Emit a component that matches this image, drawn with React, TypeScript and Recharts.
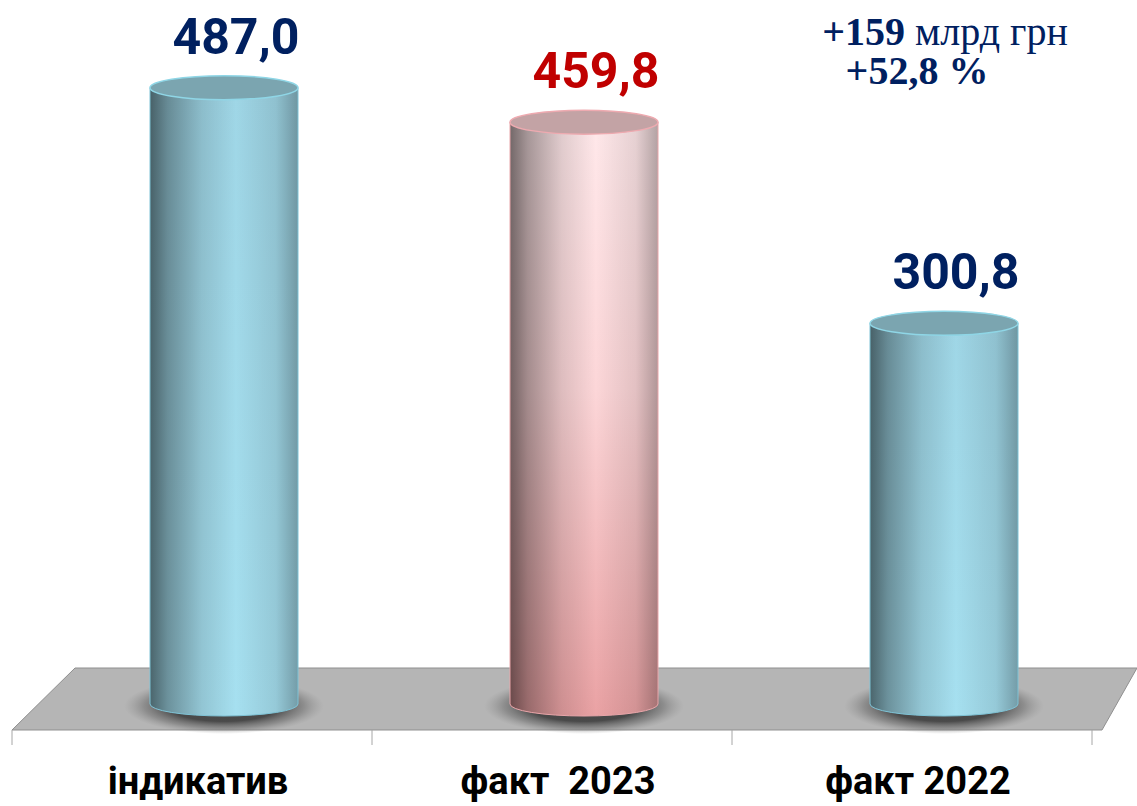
import { BarChart, Bar, XAxis, YAxis, LabelList, Customized } from 'recharts';

const categories = ['індикатив', 'факт  2023', 'факт 2022'];
const values = [487.0, 459.8, 300.8];
const highlighted = 'факт  2023';
const noteLine1 = ['+159', ' млрд грн'];
const noteLine2 = '+52,8 %';

const data = categories.map((name, i) => ({ name, value: values[i] }));

const W = 1137;
const H = 806;
const margin = { top: 8, right: 45, left: 12, bottom: 72 };
const X_AXIS_H = 30;
const PLOT_BOTTOM = H - margin.bottom - X_AXIS_H;
const PLOT_LEFT = margin.left;
const PLOT_RIGHT = W - margin.right;
const SHIFT = 32; // 3d perspective offset of cylinders
const RY = 12;

const NAVY = '#002060';
const RED = '#c00000';
const SANS = "'Liberation Sans Narrow', 'Arial Narrow', Roboto, sans-serif";
const SERIF = "'Liberation Serif', 'Times New Roman', serif";

const fmt = (v: number) => v.toFixed(1).replace('.', ',');

function Floor() {
  const band = (PLOT_RIGHT - PLOT_LEFT) / categories.length;
  const top = PLOT_BOTTOM - 36;
  const bot = PLOT_BOTTOM + 26;
  return (
    <g>
      <defs>
        <linearGradient id="baseBlue" x1="0" y1="0" x2="0" y2="1">
          <stop offset="0%" stopColor="#9fd6e6" />
          <stop offset="100%" stopColor="#a6e0f0" />
        </linearGradient>
        <linearGradient id="basePink" x1="0" y1="0" x2="0" y2="1">
          <stop offset="0%" stopColor="#ffe8ea" />
          <stop offset="45%" stopColor="#fcd6d8" />
          <stop offset="100%" stopColor="#eaa2a4" />
        </linearGradient>
        <linearGradient id="shade" x1="0" y1="0" x2="1" y2="0">
          <stop offset="0%" stopColor="#000" stopOpacity="0.55" />
          <stop offset="12%" stopColor="#000" stopOpacity="0.35" />
          <stop offset="35%" stopColor="#000" stopOpacity="0.12" />
          <stop offset="58%" stopColor="#000" stopOpacity="0" />
          <stop offset="85%" stopColor="#000" stopOpacity="0.1" />
          <stop offset="100%" stopColor="#000" stopOpacity="0.3" />
        </linearGradient>
        <radialGradient id="shadow" cx="0.5" cy="0.5" r="0.5">
          <stop offset="55%" stopColor="#444" stopOpacity="0.95" />
          <stop offset="80%" stopColor="#666" stopOpacity="0.5" />
          <stop offset="100%" stopColor="#888" stopOpacity="0" />
        </radialGradient>
      </defs>
      <polygon
        points={`${PLOT_LEFT + 63},${top} ${W},${top} ${PLOT_RIGHT + 10},${bot} ${PLOT_LEFT},${bot}`}
        fill="#b5b5b5"
        stroke="#8f8f8f"
        strokeWidth={1}
      />
      {Array.from({ length: categories.length + 1 }).map((_, i) => (
        <line
          key={i}
          x1={PLOT_LEFT + i * band}
          x2={PLOT_LEFT + i * band}
          y1={bot}
          y2={bot + 15}
          stroke="#a6a6a6"
          strokeWidth={1}
        />
      ))}
      <text x={945} y={45} textAnchor="middle" fill={NAVY} fontFamily={SERIF} fontSize={40}>
        <tspan fontWeight="bold">{noteLine1[0]}</tspan>
        <tspan style={{ whiteSpace: 'pre' }}>{noteLine1[1]}</tspan>
      </text>
      <text x={917} y={84} textAnchor="middle" fill={NAVY} fontFamily={SERIF} fontSize={40} fontWeight="bold">
        {noteLine2}
      </text>
    </g>
  );
}

function Cylinder(props: any) {
  const { x, y, width, height, payload } = props;
  const pink = payload?.name === highlighted;
  const rx = width / 2;
  const cx = x + rx + SHIFT;
  const left = cx - rx;
  const right = cx + rx;
  const bottom = y + height;
  const side = `M${left},${y} L${left},${bottom} A${rx},${RY} 0 0 0 ${right},${bottom} L${right},${y} Z`;
  return (
    <g>
      <ellipse cx={cx} cy={bottom + 2} rx={rx + 26} ry={RY + 16} fill="url(#shadow)" />
      <path d={side} fill={pink ? 'url(#basePink)' : 'url(#baseBlue)'} />
      <path d={side} fill="url(#shade)" stroke={pink ? '#e9a6aa' : '#7fc3d6'} strokeWidth={1} />
      <ellipse
        cx={cx}
        cy={y}
        rx={rx}
        ry={RY}
        fill={pink ? '#c3a3a5' : '#7ba5b0'}
        stroke={pink ? '#eeaab0' : '#8fd6e6'}
        strokeWidth={1.5}
      />
    </g>
  );
}

function ValueLabel(props: any) {
  const { x, y, width, value, index } = props;
  const pink = categories[index] === highlighted;
  return (
    <text
      x={x + width / 2 + SHIFT + 12}
      y={y - RY - 22}
      textAnchor="middle"
      fill={pink ? RED : NAVY}
      fontFamily={SANS}
      fontWeight="bold"
      fontSize={50}
    >
      {fmt(Number(value))}
    </text>
  );
}

function CategoryTick(props: any) {
  const { x, payload } = props;
  return (
    <text
      x={x + 6}
      y={PLOT_BOTTOM + 90}
      textAnchor="middle"
      fill="#000"
      fontFamily={SANS}
      fontWeight="bold"
      fontSize={38}
      style={{ whiteSpace: 'pre' }}
    >
      {payload.value}
    </text>
  );
}

export default function App() {
  return (
    <div style={{ position: 'absolute', left: 0, top: 0, width: W, height: H, background: '#fff' }}>
      <BarChart width={W} height={H} data={data} margin={margin} barCategoryGap={0}>
        <Customized component={Floor} />
        <XAxis
          dataKey="name"
          height={X_AXIS_H}
          axisLine={false}
          tickLine={false}
          tick={<CategoryTick />}
          interval={0}
        />
        <YAxis hide domain={[0, 550]} />
        <Bar dataKey="value" barSize={148} shape={<Cylinder />} isAnimationActive={false}>
          <LabelList dataKey="value" content={<ValueLabel />} />
        </Bar>
      </BarChart>
    </div>
  );
}
